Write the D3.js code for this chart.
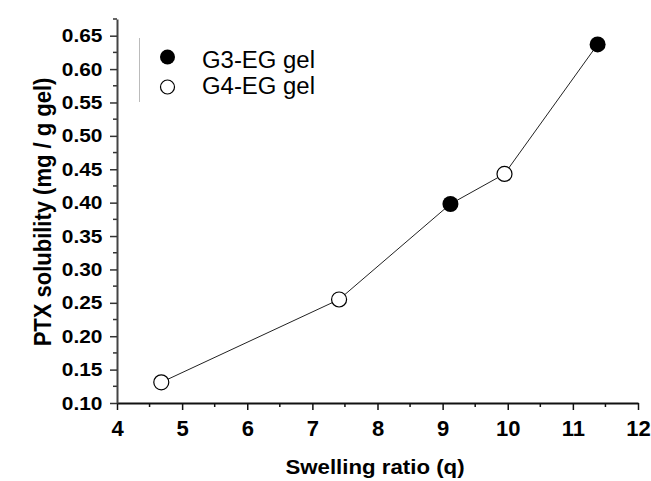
<!DOCTYPE html>
<html>
<head>
<meta charset="utf-8">
<script src="https://cdn.jsdelivr.net/npm/d3@7"></script>
<style>
  html, body { margin: 0; padding: 0; background: #ffffff; }
  svg { display: block; }
  text { font-family: "Liberation Sans", Arial, sans-serif; }
</style>
</head>
<body>
<svg id="chart" width="651" height="481"></svg>
<script>
// ---- data ----
const g3Label = "G3-EG gel";
const g4Label = "G4-EG gel";
const g3X = [9.12, 11.38];
const g3Y = [0.398, 0.637];
const g4X = [4.68, 7.41, 9.95];
const g4Y = [0.131, 0.255, 0.443];
const xTicks = [4, 5, 6, 7, 8, 9, 10, 11, 12];
const yTicks = [0.10, 0.15, 0.20, 0.25, 0.30, 0.35, 0.40, 0.45, 0.50, 0.55, 0.60, 0.65];
const xTitle = "Swelling ratio (q)";
const yTitle = "PTX solubility (mg / g gel)";

const svg = d3.select("#chart");
const x = d3.scaleLinear().domain([4, 12]).range([117, 638]);
const y = d3.scaleLinear().domain([0.10, 0.675]).range([403, 19]);
const FONT = "Liberation Sans, Arial, sans-serif";
const SX = 1.1; // horizontal stretch of the reference y tick text

// minor ticks
const xMinor = d3.range(4.5, 12, 1);
const yMinor = d3.range(0.125, 0.68, 0.05);

svg.append("g").selectAll("line").data(xMinor).join("line")
  .attr("x1", d => x(d)).attr("x2", d => x(d))
  .attr("y1", 403).attr("y2", 407)
  .attr("stroke", "#111").attr("stroke-width", 1.5);
svg.append("g").selectAll("line").data(yMinor).join("line")
  .attr("x1", 117).attr("x2", 113)
  .attr("y1", d => y(d)).attr("y2", d => y(d))
  .attr("stroke", "#333").attr("stroke-width", 1.5);

// axes
const xAxis = svg.append("g").attr("transform", "translate(0,403)")
  .call(d3.axisBottom(x).tickValues(xTicks).tickSize(7).tickPadding(6).tickSizeOuter(0).tickFormat(d3.format("d")));
const yAxis = svg.append("g").attr("transform", "translate(117,0)")
  .call(d3.axisLeft(y).tickValues(yTicks).tickSize(7).tickPadding(7).tickSizeOuter(0).tickFormat(d3.format(".2f")));

xAxis.select(".domain").attr("stroke", "#111").attr("stroke-width", 2);
yAxis.select(".domain").attr("stroke", "#444").attr("stroke-width", 2);
xAxis.selectAll(".tick line").attr("stroke", "#111").attr("stroke-width", 1.5);
yAxis.selectAll(".tick line").attr("stroke", "#333").attr("stroke-width", 1.5);
xAxis.selectAll(".tick text")
  .attr("font-size", 22).attr("font-weight", "bold").attr("fill", "#000").attr("font-family", FONT)
  .attr("y", 33).attr("dy", 0);
yAxis.selectAll(".tick text")
  .attr("font-size", 19).attr("font-weight", "bold").attr("fill", "#000").attr("font-family", FONT)
  .attr("x", 0)
  .attr("transform", `translate(-14.5,0) scale(${SX},1)`);

// titles
svg.append("text").attr("transform", `translate(375,474) scale(1.06,1)`).attr("text-anchor", "middle")
  .attr("font-size", 21).attr("font-weight", "bold").text(xTitle);
svg.append("text").attr("transform", "translate(51,212) rotate(-90) scale(1,1.08)").attr("text-anchor", "middle")
  .attr("font-size", 22).attr("font-weight", "bold").text(yTitle);

// connecting line through all points sorted by x
const all = g3X.map((v, i) => ({x: v, y: g3Y[i]}))
  .concat(g4X.map((v, i) => ({x: v, y: g4Y[i]})))
  .sort((a, b) => a.x - b.x);
svg.append("path").datum(all)
  .attr("d", d3.line().x(d => x(d.x)).y(d => y(d.y)))
  .attr("fill", "none").attr("stroke", "#222").attr("stroke-width", 1);

// markers
svg.append("g").selectAll("circle").data(g4X.map((v, i) => ({x: v, y: g4Y[i]}))).join("circle")
  .attr("cx", d => x(d.x)).attr("cy", d => y(d.y)).attr("r", 7.5)
  .attr("fill", "#fff").attr("stroke", "#000").attr("stroke-width", 1.2);
svg.append("g").selectAll("circle").data(g3X.map((v, i) => ({x: v, y: g3Y[i]}))).join("circle")
  .attr("cx", d => x(d.x)).attr("cy", d => y(d.y)).attr("r", 8)
  .attr("fill", "#000");

// legend
svg.append("line").attr("x1", 139.5).attr("x2", 139.5).attr("y1", 38).attr("y2", 102)
  .attr("stroke", "#bbb").attr("stroke-width", 1);
svg.append("circle").attr("cx", 167.5).attr("cy", 57).attr("r", 7.5).attr("fill", "#000");
svg.append("circle").attr("cx", 167.5).attr("cy", 87).attr("r", 7).attr("fill", "#fff")
  .attr("stroke", "#000").attr("stroke-width", 1.2);
svg.append("text").attr("transform", "translate(202,67.5) scale(1.04,1)").attr("font-size", 23).attr("fill", "#000").text(g3Label);
svg.append("text").attr("transform", "translate(202,93.5) scale(1.04,1)").attr("font-size", 23).attr("fill", "#000").text(g4Label);
</script>
</body>
</html>
